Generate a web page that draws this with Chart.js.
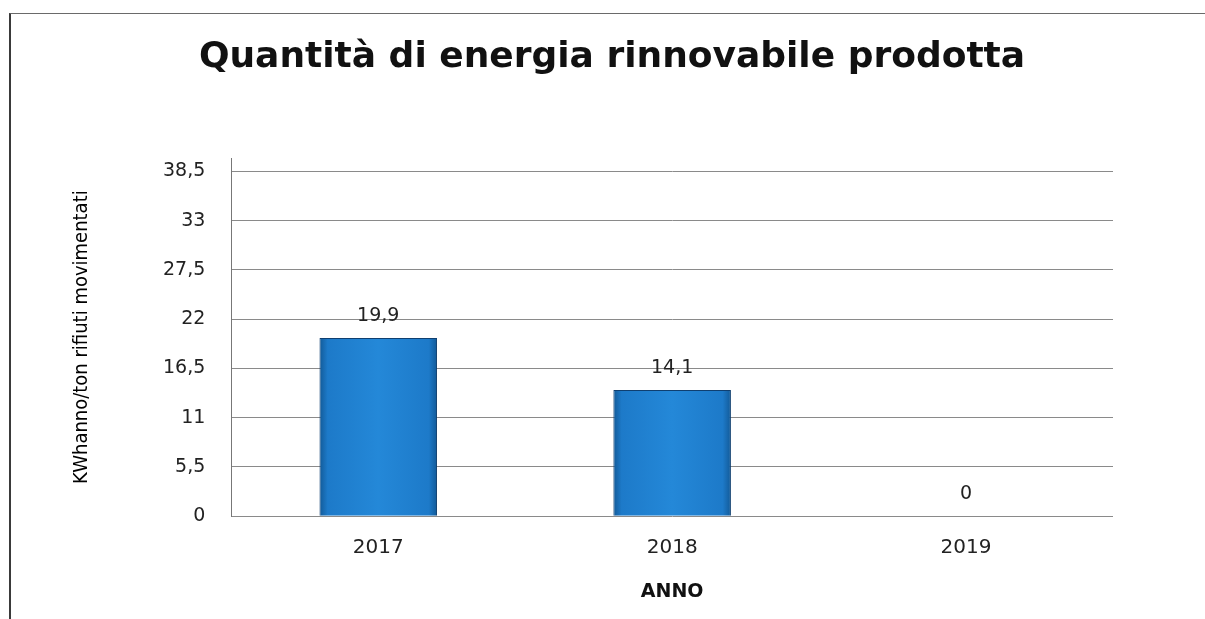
<!DOCTYPE html>
<html>
<head>
<meta charset="utf-8">
<script src="https://cdn.jsdelivr.net/npm/chart.js@4/dist/chart.umd.min.js"></script>
<style>
  body { margin: 0; background: #fff; }
  #wrap { position: relative; width: 1205px; height: 619px; }
  #frame { position: absolute; left: 9px; top: 13px; right: 0; bottom: 0;
           border-top: 1px solid #6a6a6a; border-left: 2px solid #3a3a3a; }
  canvas { position: absolute; left: 0; top: 0; }
</style>
</head>
<body>
<div id="wrap">
  <div id="frame"></div>
  <canvas id="myChart" width="1205" height="619"></canvas>
</div>
<script>
// dati
const anni = ['2017', '2018', '2019'];
const energia = [19.9, 14.1, 0];
const yTicks = [0, 5.5, 11, 16.5, 22, 27.5, 33, 38.5];
const titolo = 'Quantità di energia rinnovabile prodotta';

const virgola = v => String(v).replace('.', ',');

// titolo (disegnato a mano per centrarlo come nell'originale)
const titoloPlugin = {
    id: 'titoloPlugin',
    afterDraw(chart) {
        const ctx = chart.ctx;
        ctx.save();
        ctx.font = 'bold 36px "DejaVu Sans"';
        ctx.fillStyle = '#111';
        ctx.textAlign = 'center';
        ctx.textBaseline = 'middle';
        ctx.fillText(titolo, 612, 58);
        ctx.restore();
    }
};

// etichette sopra le barre
const etichette = {
    id: 'etichette',
    afterDatasetsDraw(chart) {
        const ctx = chart.ctx;
        ctx.save();
        ctx.font = '19px "DejaVu Sans"';
        ctx.fillStyle = '#222';
        ctx.textAlign = 'center';
        ctx.textBaseline = 'middle';
        chart.getDatasetMeta(0).data.forEach((el, i) => {
            ctx.fillText(virgola(energia[i]), el.x, el.y - 22);
        });
        ctx.restore();
    }
};

function coloreBarra(c) {
    const el = c.chart.getDatasetMeta(0).data[c.dataIndex];
    if (!el || !el.width) return '#2084d4';
    const g = c.chart.ctx.createLinearGradient(el.x - el.width / 2, 0, el.x + el.width / 2, 0);
    g.addColorStop(0, '#125a98');
    g.addColorStop(0.07, '#1d7ac9');
    g.addColorStop(0.5, '#2488d8');
    g.addColorStop(0.93, '#1d7ac9');
    g.addColorStop(1, '#125a98');
    return g;
}

var ctx = document.getElementById('myChart');
var myChart = new Chart(ctx, {
    type: 'bar',
    data: {
        labels: anni,
        datasets: [{
            label: 'Energia',
            data: energia,
            backgroundColor: coloreBarra,
            borderColor: '#0f3f70',
            borderWidth: 1,
            barPercentage: 0.4,
            categoryPercentage: 1
        }]
    },
    options: {
        responsive: false,
        animation: false,
        layout: { padding: { left: 60, right: 92, top: 158, bottom: 16 } },
        plugins: {
            legend: { display: false },
            tooltip: { enabled: false },
            title: { display: false }
        },
        scales: {
            x: {
                grid: { display: false, drawTicks: false },
                border: { display: false },
                ticks: { color: '#222', font: { family: '"DejaVu Sans"', size: 20 }, padding: 20 },
                title: {
                    display: true,
                    text: 'ANNO',
                    color: '#111',
                    font: { family: '"DejaVu Sans"', size: 19, weight: 'bold' },
                    padding: { top: 0, bottom: 0 }
                }
            },
            y: {
                min: 0,
                max: 40,
                afterBuildTicks: s => { s.ticks = yTicks.map(v => ({ value: v })); },
                grid: { color: '#8a8a8a', lineWidth: 1, drawTicks: false },
                border: { display: true, color: '#777' },
                ticks: {
                    color: '#222',
                    font: { family: '"DejaVu Sans"', size: 19 },
                    padding: 26,
                    callback: v => virgola(v)
                },
                title: {
                    display: true,
                    text: 'KWhanno/ton rifiuti movimentati',
                    color: '#000',
                    font: { family: '"DejaVu Sans Condensed", "DejaVu Sans"', size: 20 },
                    padding: { top: 10, bottom: 43 }
                }
            }
        }
    },
    plugins: [etichette, titoloPlugin]
});
myChart.update();
</script>
</body>
</html>
